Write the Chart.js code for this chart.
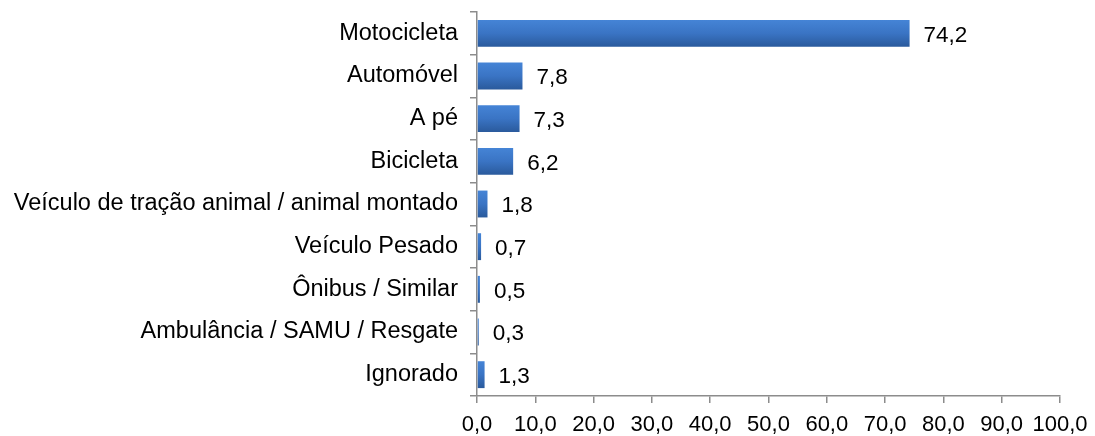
<!DOCTYPE html>
<html>
<head>
<meta charset="utf-8">
<script src="https://cdn.jsdelivr.net/npm/chart.js@4/dist/chart.umd.min.js"></script>
<style>
  html, body { margin: 0; padding: 0; background: #fff; }
  #wrap { width: 1095px; height: 436px; }
</style>
</head>
<body>
<div id="wrap"><canvas id="meioChart"></canvas></div>
<script>
const categorias = [
  'Motocicleta',
  'Automóvel',
  'A pé',
  'Bicicleta',
  'Veículo de tração animal / animal montado',
  'Veículo Pesado',
  'Ônibus / Similar',
  'Ambulância / SAMU / Resgate',
  'Ignorado'
];
const percentuais = [74.2, 7.8, 7.3, 6.2, 1.8, 0.7, 0.5, 0.3, 1.3];
const ticksX = [0, 10, 20, 30, 40, 50, 60, 70, 80, 90, 100];

const fmt = v => Number(v).toFixed(1).replace('.', ',');
const fonte = '"Liberation Sans", Arial, sans-serif';

// rótulos de valor ao lado das barras
const rotulos = {
  id: 'rotulos',
  afterDatasetsDraw(chart) {
    const ctx = chart.ctx;
    const meta = chart.getDatasetMeta(0);
    ctx.save();
    ctx.font = '22.5px ' + fonte;
    ctx.fillStyle = '#000';
    ctx.textBaseline = 'middle';
    ctx.textAlign = 'left';
    meta.data.forEach((bar, i) => {
      ctx.fillText(fmt(percentuais[i]), bar.x + 14, bar.y + 2);
    });
    ctx.restore();
  }
};

function corBarra(c) {
  const yScale = c.chart.scales.y;
  if (!yScale || c.dataIndex === undefined) return '#3a72c0';
  const cy = yScale.getPixelForValue(c.dataIndex);
  const h = 0.63 * (yScale.height / categorias.length);
  if (!isFinite(cy) || !isFinite(h)) return '#3a72c0';
  const g = c.chart.ctx.createLinearGradient(0, cy - h / 2, 0, cy + h / 2);
  g.addColorStop(0, '#4584d6');
  g.addColorStop(0.5, '#3a74c4');
  g.addColorStop(1, '#2a5a9c');
  return g;
}

const ctx = document.getElementById('meioChart').getContext('2d');
const chart = new Chart(ctx, {
  type: 'bar',
  data: {
    labels: categorias,
    datasets: [{
      data: percentuais,
      backgroundColor: corBarra,
      borderWidth: 0,
      barPercentage: 0.63,
      categoryPercentage: 1.0
    }]
  },
  plugins: [rotulos],
  options: {
    indexAxis: 'y',
    responsive: true,
    maintainAspectRatio: false,
    animation: false,
    layout: { padding: { top: 12, right: 35, bottom: 0, left: 0 } },
    plugins: {
      legend: { display: false },
      tooltip: { enabled: false }
    },
    scales: {
      x: {
        min: 0,
        max: 100,
        afterBuildTicks: (s) => { s.ticks = ticksX.map(v => ({ value: v })); },
        afterFit: (s) => { s.height = 40; s.paddingLeft = 0; s.paddingRight = 0; },
        grid: { drawOnChartArea: false, tickLength: 7, color: '#8c8c8c', lineWidth: 1.5 },
        border: { color: '#8c8c8c', width: 1.5 },
        ticks: {
          color: '#000',
          padding: 9,
          maxRotation: 0,
          autoSkip: false,
          font: { family: fonte, size: 22 },
          callback: (v) => fmt(v)
        }
      },
      y: {
        afterFit: (s) => { s.width = 477; s.paddingTop = 0; s.paddingBottom = 0; },
        grid: { drawOnChartArea: false, offset: true, tickLength: 7, color: '#8c8c8c', lineWidth: 1.5 },
        border: { color: '#8c8c8c', width: 1.5 },
        ticks: {
          color: '#000',
          padding: 12,
          autoSkip: false,
          font: { family: fonte, size: 23.5 }
        }
      }
    }
  }
});
</script>
</body>
</html>
